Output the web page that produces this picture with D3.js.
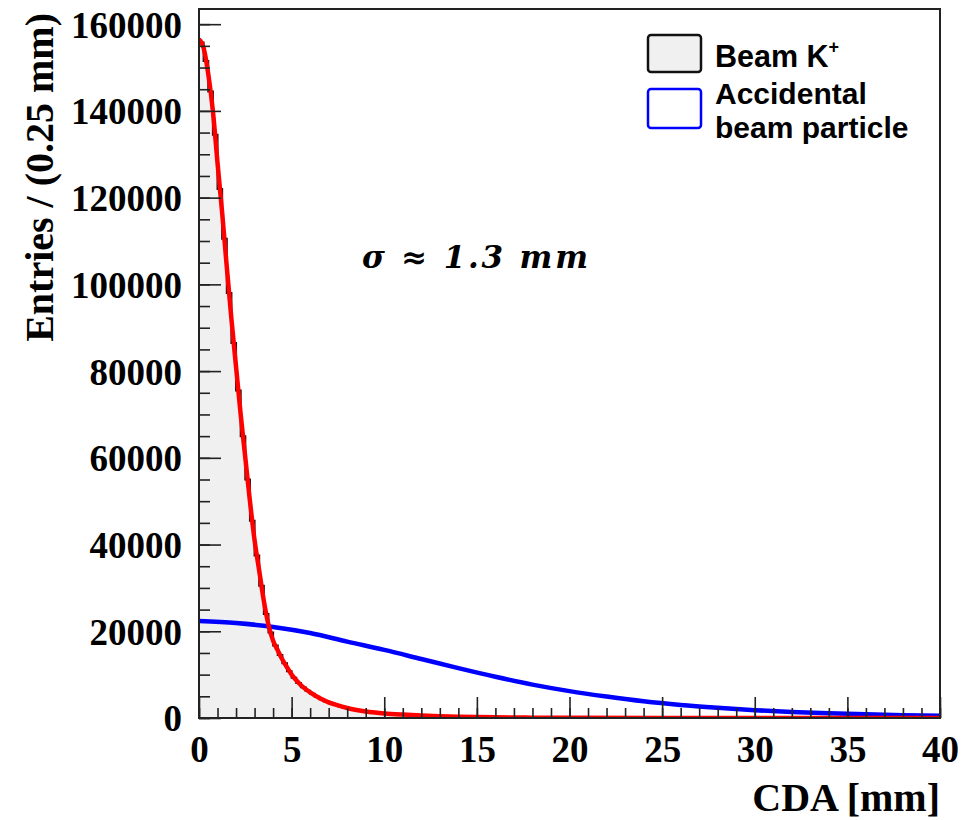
<!DOCTYPE html>
<html><head><meta charset="utf-8">
<script src="https://cdn.jsdelivr.net/npm/d3@7"></script>
<style>body{margin:0;background:#fff}</style>
</head><body><svg id="c" width="968" height="820"></svg>
<script>
// ---- data ----
const binWidth = 0.25;           // mm per bin, range 0..40
const beamCounts = [
  155800,151500,144500,134500,122000,110500,98000,86500,
  75500,65000,55000,45500,37500,30500,24000,19700,
  16700,14500,12600,10800,9300,8100,7100,6300,
  5600,4900,4300,3800,3400,3000,2700,2400,
  2150,1950,1750,1600,1450,1300,1200,1100,
  1000,940,870,800,740,690,640,590,
  550,510,470,440,410,380,350,320,
  300,280,260,240,220,200,185,170,
  160,150,140,130,120,110,100,95,90,85,80,70,65,60,55,50,
  45,42,40,38,35,32,30,28,26,24,22,20,18,16,15,14,13,12,11,10,
  9,9,8,8,7,7,6,6,5,5,5,4,4,4,3,3,3,3,2,2,
  2,2,2,2,1,1,1,1,1,1,1,1,1,1,1,1,0,0,0,0,
  0,0,0,0,0,0,0,0,0,0,0,0,0,0,0,0,0,0,0,0
];
const fitX = [0,0.25,0.5,0.75,1,1.25,1.5,1.75,2,2.25,2.5,2.75,3,3.25,3.5,3.75,4,4.25,4.5,4.75,5,5.25,5.5,5.75,6,6.5,7,7.5,8,8.5,9,9.5,10,11,12,13,14,16,18,20,25,30,35,40];
const fitY = [156500,154500,148500,140000,128000,116500,104000,92000,81000,70000,60000,50000,41000,34000,27000,21500,17800,15600,13500,11700,10000,8700,7600,6700,5900,4600,3600,2900,2300,1850,1500,1250,1050,780,580,420,300,150,80,40,5,0,0,0];
const accX = [0,2,4,6,8,10,12,14,16,18,20,22,24,26,28,30,32,34,36,38,40];
const accY = [22350,21900,21000,19600,17600,15700,13600,11500,9500,7700,6200,4950,3850,3000,2350,1800,1400,1100,850,650,500];
const xTickValues = [0,5,10,15,20,25,30,35,40];
const yTickValues = [0,20000,40000,60000,80000,100000,120000,140000,160000];
const legendLabels = ["Beam K", "Accidental", "beam particle"];

// ---- layout ----
const L = 199, R = 940, T = 9, B = 718;
const svg = d3.select("#c");
const x = d3.scaleLinear().domain([0, 40]).range([L, R]);
const y = d3.scaleLinear().domain([0, 163500]).range([B, T]);

svg.append("defs").append("clipPath").attr("id","clip")
  .append("rect").attr("x",L).attr("y",T).attr("width",R-L).attr("height",B-T);

// histogram
const histPts = beamCounts.map((v,i)=>[i*binWidth, v]);
histPts.push([40, beamCounts[beamCounts.length-1]]);
const g = svg.append("g").attr("clip-path","url(#clip)");
g.append("path").datum(histPts)
  .attr("d", d3.area().x(d=>x(d[0])).y0(y(0)).y1(d=>y(d[1])).curve(d3.curveStepAfter))
  .attr("fill","#f0f0f0");
g.append("path").datum([[0,0]].concat(histPts))
  .attr("d", d3.line().x(d=>x(d[0])).y(d=>y(d[1])).curve(d3.curveStepAfter))
  .attr("fill","none").attr("stroke","#111").attr("stroke-width",2);

// accidental curve (blue)
g.append("path").datum(accX.map((v,i)=>[v,accY[i]]))
  .attr("d", d3.line().x(d=>x(d[0])).y(d=>y(d[1])).curve(d3.curveMonotoneX))
  .attr("fill","none").attr("stroke","#0000ff").attr("stroke-width",4.5);
// fit curve (red)
g.append("path").datum(fitX.map((v,i)=>[v,fitY[i]]))
  .attr("d", d3.line().x(d=>x(d[0])).y(d=>y(d[1])).curve(d3.curveMonotoneX))
  .attr("fill","none").attr("stroke","#ff0000").attr("stroke-width",4.5);

// axes
const tickFont = "'Liberation Serif','Times New Roman',serif";
const xMinor = svg.append("g").attr("transform",`translate(0,${B})`)
  .call(d3.axisBottom(x).tickValues(d3.range(0,41,1)).tickSize(-10).tickFormat(""));
const xMajor = svg.append("g").attr("transform",`translate(0,${B})`)
  .call(d3.axisBottom(x).tickValues(xTickValues).tickSize(-21).tickPadding(18).tickFormat(d3.format("d")));
const yMinor = svg.append("g").attr("transform",`translate(${L},0)`)
  .call(d3.axisLeft(y).tickValues(d3.range(0,163500,5000)).tickSize(-11).tickFormat(""));
const yMajor = svg.append("g").attr("transform",`translate(${L},0)`)
  .call(d3.axisLeft(y).tickValues(yTickValues).tickSize(-22).tickPadding(17).tickFormat(d3.format("d")));
[xMinor,xMajor,yMinor,yMajor].forEach(a=>{
  a.select(".domain").remove();
  a.selectAll(".tick line").attr("stroke","#222").attr("stroke-width",1.6);
  a.selectAll("text").attr("font-family",tickFont).attr("font-weight","bold")
    .attr("font-size",37).attr("fill","#000");
});
yMajor.selectAll("text").attr("dy","0.35em");

// frame
svg.append("rect").attr("x",L).attr("y",T).attr("width",R-L).attr("height",B-T)
  .attr("fill","none").attr("stroke","#222").attr("stroke-width",2);

// axis titles
svg.append("text").attr("x",R).attr("y",811).attr("text-anchor","end")
  .attr("font-family",tickFont).attr("font-weight","bold").attr("font-size",40)
  .text("CDA [mm]");
svg.append("text").attr("transform",`translate(53,13) rotate(-90)`).attr("text-anchor","end")
  .attr("font-family",tickFont).attr("font-weight","bold").attr("font-size",40)
  .text("Entries / (0.25 mm)");

// annotation
svg.append("text").attr("x",362).attr("y",268)
  .attr("font-family","'DejaVu Serif','Liberation Serif',serif").attr("font-weight","bold")
  .attr("font-style","italic").attr("font-size",31)
  .attr("textLength",226).attr("lengthAdjust","spacing")
  .text("σ ≈ 1.3 mm");

// legend
const sans = "'Liberation Sans',Arial,Helvetica,sans-serif";
const lg = svg.append("g");
lg.append("rect").attr("x",648).attr("y",35).attr("width",53).attr("height",37).attr("rx",3)
  .attr("fill","#f0f0f0").attr("stroke","#111").attr("stroke-width",2.5);
lg.append("rect").attr("x",648).attr("y",89).attr("width",53).attr("height",39).attr("rx",3)
  .attr("fill","#fff").attr("stroke","#0000ff").attr("stroke-width",2.5);
const t1 = lg.append("text").attr("x",715).attr("y",67)
  .attr("font-family",sans).attr("font-weight","bold").attr("font-size",30.5).text(legendLabels[0]);
t1.append("tspan").attr("font-size",18).attr("dy",-14).text("+");
lg.append("text").attr("x",715).attr("y",104)
  .attr("font-family",sans).attr("font-weight","bold").attr("font-size",30).text(legendLabels[1]);
lg.append("text").attr("x",715).attr("y",138)
  .attr("font-family",sans).attr("font-weight","bold").attr("font-size",30).text(legendLabels[2]);
</script>
</body></html>
